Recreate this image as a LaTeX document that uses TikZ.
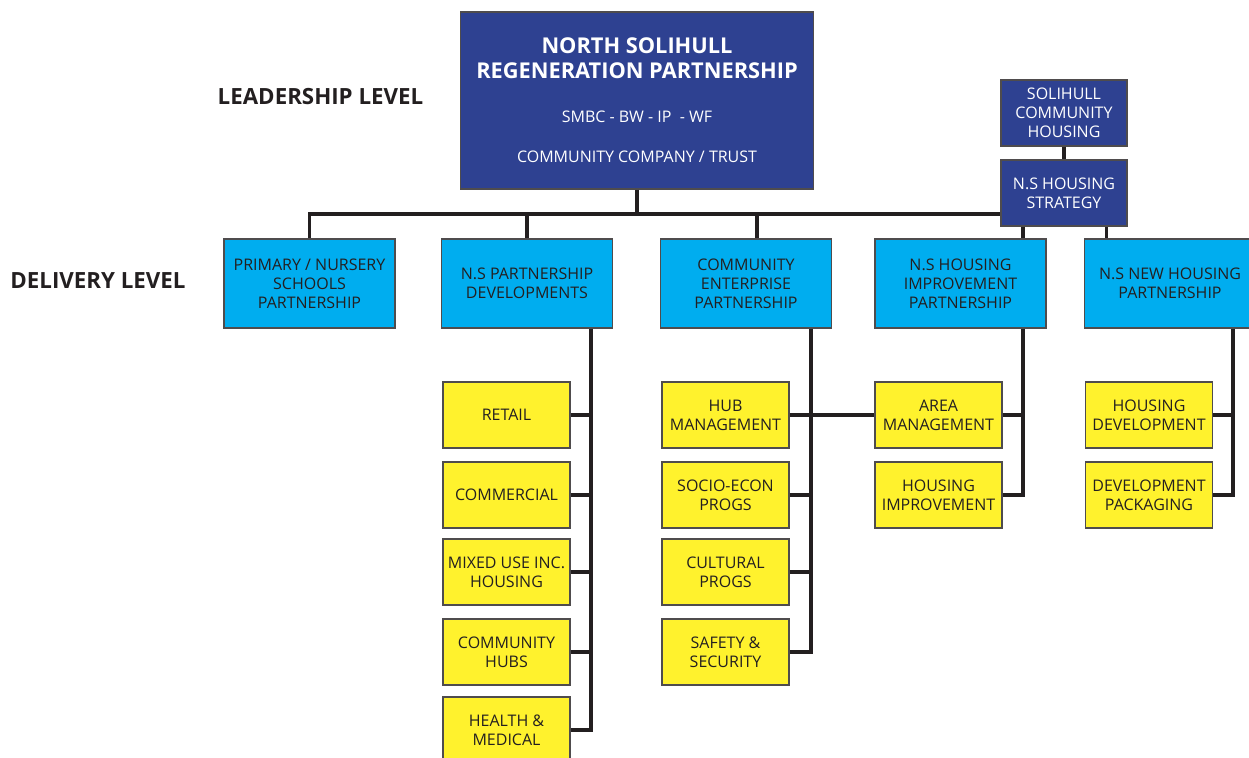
\documentclass[tikz,border=0pt]{standalone}
\usepackage{fontspec}
\setmainfont{Open Sans}
\usepackage{tikz}
\usetikzlibrary{positioning}

\definecolor{leadblue}{HTML}{2E4191}
\definecolor{delivblue}{HTML}{00ADEF}
\definecolor{taskyellow}{HTML}{FFF22D}
\definecolor{linegray}{HTML}{231F20}

\newcommand{\titlefont}{\fontsize{12.4}{14.6}\selectfont\bfseries}

\begin{document}
\begin{tikzpicture}[x=0.02cm, y=-0.02cm,
    box/.style={draw=linegray!80, line width=0.6pt, inner sep=0pt, align=center,
                font=\fontsize{9.1}{10.9}\selectfont, text=linegray},
    lead/.style={box, fill=leadblue, text=white, minimum width=2.52cm, minimum height=1.32cm},
    deliv/.style={box, fill=delivblue, minimum width=3.42cm, minimum height=1.78cm},
    task/.style={box, fill=taskyellow, minimum width=2.54cm, minimum height=1.32cm},
    level/.style={font=\fontsize{12.7}{14}\selectfont\bfseries, text=linegray},
    conn/.style={line width=2.2pt, draw=linegray}
  ]
    \useasboundingbox (0,0) rectangle (1249,758);
    % Level labels
    \node[level] (leadlbl) at (320.5,97) {LEADERSHIP LEVEL};
    \node[level] (delivlbl) at (98,281) {DELIVERY LEVEL};
    % Leadership
    \node[box, fill=leadblue, text=white, minimum width=7.08cm, minimum height=3.54cm]
      (nsrp) at (637,100.5)
      {\titlefont NORTH SOLIHULL\\[3.4pt]\titlefont REGENERATION PARTNERSHIP\\[14pt]
       SMBC - BW - IP \ - WF\\[12pt]
       COMMUNITY COMPANY / TRUST};
    \node[lead] (sch) at (1064,113) {SOLIHULL\\COMMUNITY\\HOUSING};
    \node[lead] (shs) at (1064,193) {N.S HOUSING\\STRATEGY};
    % Delivery
    \node[deliv] (pnsp) at (309.5,283.5) {PRIMARY / NURSERY\\SCHOOLS\\PARTNERSHIP};
    \node[deliv] (nspd) at (527,283.5) {N.S PARTNERSHIP\\DEVELOPMENTS};
    \node[deliv] (cep) at (746,283.5) {COMMUNITY\\ENTERPRISE\\PARTNERSHIP};
    \node[deliv] (nship) at (960.5,283.5) {N.S HOUSING\\IMPROVEMENT\\PARTNERSHIP};
    \node[deliv] (nsnhp) at (1170,283.5) {N.S NEW HOUSING\\PARTNERSHIP};
    % Tasks --- partnership developments
    \node[task] (retail) at (506.5,415) {RETAIL};
    \node[task] (commercial) at (506.5,495) {COMMERCIAL};
    \node[task] (mixed) at (506.5,572) {MIXED USE INC.\\HOUSING};
    \node[task] (hubs) at (506.5,652) {COMMUNITY\\HUBS};
    \node[task] (health) at (506.5,730) {HEALTH \&\\MEDICAL};
    % Tasks --- community enterprise
    \node[task] (hubmgmt) at (725.5,415) {HUB\\MANAGEMENT};
    \node[task] (socio) at (725.5,495) {SOCIO-ECON\\PROGS};
    \node[task] (cultural) at (725.5,572) {CULTURAL\\PROGS};
    \node[task] (safety) at (725.5,652) {SAFETY \&\\SECURITY};
    % Tasks --- housing
    \node[task] (areamgmt) at (938.5,415) {AREA\\MANAGEMENT};
    \node[task] (housimp) at (938.5,495) {HOUSING\\IMPROVEMENT};
    \node[task] (housdev) at (1149,415) {HOUSING\\DEVELOPMENT};
    \node[task] (devpack) at (1149,495) {DEVELOPMENT\\PACKAGING};
    % Bus
    \coordinate (bus) at (0,214);
    \draw[conn] (nsrp.south) -- (nsrp.south |- bus);
    \draw[conn] (pnsp.north) |- (shs.west |- bus);
    \draw[conn] (nspd.north) -- (nspd.north |- bus);
    \draw[conn] ([xshift=0.22cm]cep.north) -- ([xshift=0.22cm]cep.north |- bus);
    \draw[conn] (sch.south) -- (shs.north);
    \draw[conn] ([xshift=-0.82cm]shs.south) -- ([xshift=-0.82cm]shs.south |- nship.north);
    \draw[conn] ([xshift=0.85cm]shs.south) -- ([xshift=0.85cm]shs.south |- nsnhp.north);
    % Trunks
    \coordinate (trk2) at ([xshift=1.28cm]nspd.south);
    \coordinate (trk3) at ([xshift=1.30cm]cep.south);
    \coordinate (trk4) at ([xshift=1.25cm]nship.south);
    \coordinate (trk5) at ([xshift=1.26cm]nsnhp.south);
    \draw[conn] (trk2) |- (health.east);
    \foreach \t in {retail, commercial, mixed, hubs}
      \draw[conn] (\t.east) -- (\t.east -| trk2);
    \draw[conn] (trk3) |- (safety.east);
    \foreach \t in {socio, cultural}
      \draw[conn] (\t.east) -- (\t.east -| trk3);
    \draw[conn] (hubmgmt.east) -- (areamgmt.west);
    \draw[conn] (trk4) |- (housimp.east);
    \draw[conn] (areamgmt.east) -- (areamgmt.east -| trk4);
    \draw[conn] (trk5) |- (devpack.east);
    \draw[conn] (housdev.east) -- (housdev.east -| trk5);
  \end{tikzpicture}
\end{document}
